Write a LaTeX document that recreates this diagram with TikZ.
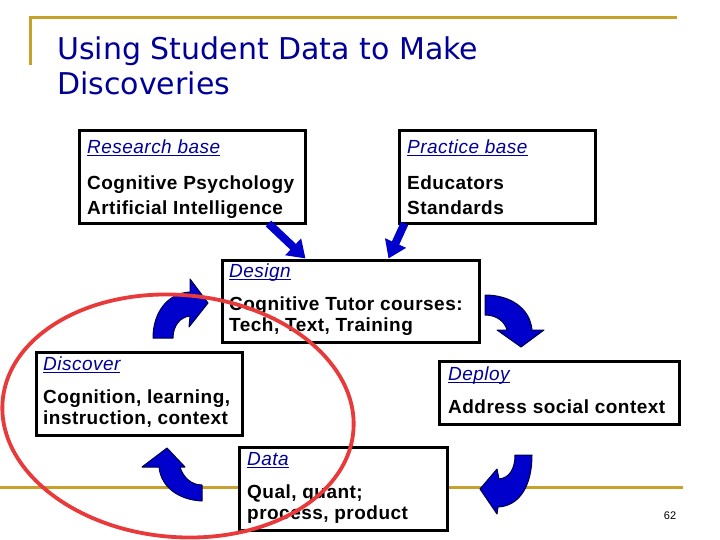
\documentclass[tikz,border=0pt]{standalone}
\usepackage{fontspec}
\usetikzlibrary{arrows.meta}
\newfontfamily\titlefont{DejaVu Sans}
\newfontfamily\boxfont[LetterSpace=2.5]{Liberation Sans}
\newfontfamily\numfont{Liberation Sans}
\definecolor{navy}{RGB}{0,0,150}
\definecolor{gold}{RGB}{200,160,44}
\definecolor{arrowblue}{RGB}{0,0,204}
\definecolor{arrowdark}{RGB}{0,0,70}
\definecolor{ringred}{RGB}{232,58,58}
\newcommand{\boxhead}[1]{{\mdseries\itshape\color{navy}\setbox0\hbox{#1}\rlap{\rule[-2.6pt]{\wd0}{1.1pt}}\box0}}
\begin{document}
\begin{tikzpicture}[x=1pt,y=-1pt,
  title/.style={font=\titlefont\fontsize{30}{35}\selectfont, text=navy, inner sep=0pt},
  box/.style={draw=black, fill=white, line width=3pt, inner sep=0pt},
  boxtext/.style={font=\boxfont\bfseries\fontsize{19}{21}\selectfont, align=left, inner sep=0pt, anchor=north west},
  wide/.style={font=\boxfont\bfseries\fontsize{19}{25}\selectfont},
  link/.style={arrowblue, line width=8pt, -{Triangle[length=17pt,width=22pt]}},
  curvearrow/.style={fill=arrowblue, draw=arrowdark, line width=1pt, line join=round},
  ring/.style={draw=ringred, line width=3.8pt}]
  \useasboundingbox (0,0) rectangle (720,540);
  \fill[white] (0,0) rectangle (720,540);
  % gold frame lines
  \draw[gold, line width=3pt] (30,65) -- (30,18) -- (677,18);
  \draw[gold, line width=3pt] (0,487) -- (683,487);
  \node[title, anchor=base west] (title1) at (57,60) {Using Student Data to Make};
  \node[title, anchor=base west] (title2) at (57,95) {Discoveries};
  % boxes
  \node[box, minimum width=226pt, minimum height=93pt] (research) at (192,177.5) {};
  \node[box, minimum width=196pt, minimum height=93pt] (practice) at (497,177.5) {};
  \node[box, minimum width=257pt, minimum height=82pt] (design) at (350.5,301) {};
  \draw[link] ([xshift=-38pt,yshift=2pt]research.south east) -- ([xshift=85pt]design.north west);
  \draw[link] ([xshift=7pt,yshift=2pt]practice.south west) -- ([xshift=168pt]design.north west);
  \node[box, minimum width=206pt, minimum height=83pt] (discover) at (139,393.5) {};
  \node[box, minimum width=240pt, minimum height=63pt] (deploy) at (559,392.5) {};
  \node[box, minimum width=208pt, minimum height=83pt] (data) at (343,488.5) {};
  % box texts
  \node[boxtext, wide] (researchT) at (87,139.5) {\boxhead{Research base}\\[11pt]Cognitive Psychology\\Artificial Intelligence};
  \node[boxtext, wide] (practiceT) at (407,139.5) {\boxhead{Practice base}\\[11pt]Educators\\Standards};
  \node[boxtext] (designT) at (229,263.5) {\boxhead{Design}\\[12pt]Cognitive Tutor courses:\\Tech, Text, Training};
  \node[boxtext] (discoverT) at (43,356.5) {\boxhead{Discover}\\[12pt]Cognition, learning,\\instruction, context};
  \node[boxtext] (deployT) at (448,366.5) {\boxhead{Deploy}\\[12pt]Address social context};
  \node[boxtext] (dataT) at (247,452.5) {\boxhead{Data}\\[12pt]Qual, quant;\\process, product};
  % curved block arrows
  \draw[curvearrow] (153,338) .. controls (153,312) and (168,293) .. (190,292) -- (190,279) -- (208,303) -- (189,327) -- (190,316) .. controls (180,317) and (173,326) .. (173,338) -- cycle;
  \draw[curvearrow] (485,295) .. controls (510,295) and (530,308) .. (532,330) -- (544,330) -- (521,347) -- (497,330) -- (507,330) .. controls (505,322) and (497,315) .. (485,315) -- cycle;
  \draw[curvearrow] (202,501) .. controls (180,500) and (161,488) .. (159,467) -- (142,467) -- (167,448) -- (185,467) -- (180,467) .. controls (183,477) and (191,485) .. (202,485) -- cycle;
  \draw[curvearrow] (515,455) -- (532,455) .. controls (532,485) and (520,506) .. (498,507) -- (497,514) -- (480,489) -- (497,469) -- (499,479) .. controls (510,478) and (515,468) .. (515,455) -- cycle;
  \draw[ring, rotate around={-5:(178,416)}] (178,416) ellipse [x radius=176pt, y radius=121pt];
  \node[font=\numfont\fontsize{11}{13}\selectfont, inner sep=0pt] (page) at (670,516) {62};
\end{tikzpicture}
\end{document}
